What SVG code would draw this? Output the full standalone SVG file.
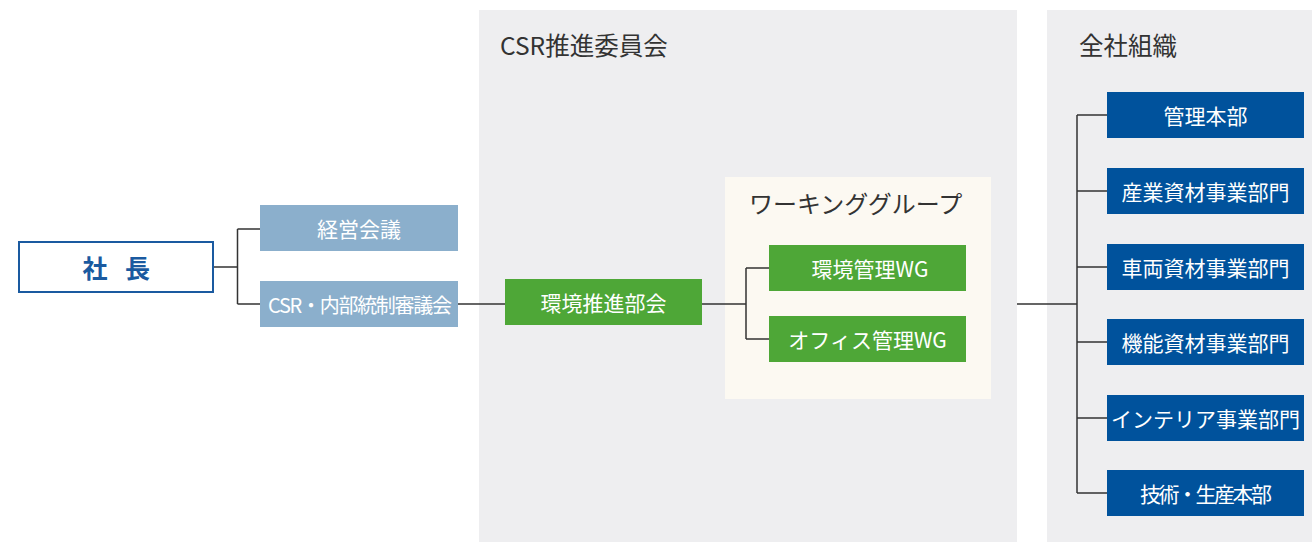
<svg xmlns="http://www.w3.org/2000/svg" width="1312" height="542" viewBox="0 0 1312 542">
<style>
text{font-family:"Noto Sans CJK JP","Noto Sans",sans-serif;}
.title{font-size:24.5px;fill:#333;}
.lbl{font-size:21px;fill:#fff;text-anchor:middle;dominant-baseline:central;}
.lb{fill:#8bafcc;}
.gr{fill:#4ea737;}
.db{fill:#00529c;}
.con{fill:none;stroke:#333;stroke-width:1.5;}
</style>
<rect x="0" y="0" width="1312" height="542" fill="#fff"/>
<g id="panel-csr">
<rect x="479" y="10" width="538" height="532" fill="#eeeef0"/>
<text class="title" x="500" y="55">CSR推進委員会</text>
</g>
<g id="panel-all">
<rect x="1047" y="10" width="265" height="532" fill="#eeeef0"/>
<text class="title" x="1079" y="55">全社組織</text>
</g>
<g id="panel-wg">
<rect x="725" y="177" width="266" height="222" fill="#fcf9f2"/>
<text class="title" x="749" y="213" style="font-size:24px">ワーキンググループ</text>
</g>
<g id="connectors">
<path class="con" d="M213 267H237.5M237.5 229V304M237.5 229H260M237.5 304H260"/>
<path class="con" d="M458 304H505"/>
<path class="con" d="M702 304H746M746 268V339M746 268H769M746 339H769"/>
<path class="con" d="M1017 304H1077M1077 115V493"/>
<path class="con" d="M1077 115H1107M1077 191H1107M1077 267H1107M1077 342H1107M1077 418H1107M1077 493H1107"/>
</g>
<g id="president">
<rect x="19" y="242" width="194" height="50" fill="#fff" stroke="#1a5aa0" stroke-width="2"/>
<text y="267" style="font-size:25px;font-weight:bold;fill:#1a5aa0;text-anchor:middle;dominant-baseline:central"><tspan x="95">社</tspan><tspan x="137.5">長</tspan></text>
</g>
<g id="keiei">
<rect class="lb" x="260" y="205" width="198" height="46"/>
<text class="lbl" x="359" y="228">経営会議</text>
</g>
<g id="csr-council">
<rect class="lb" x="260" y="281" width="198" height="46"/>
<text class="lbl" x="360" y="304" style="font-size:20px" textLength="184" lengthAdjust="spacing">CSR・内部統制審議会</text>
</g>
<g id="kankyo-suishin">
<rect class="gr" x="505" y="279" width="197" height="46"/>
<text class="lbl" x="603.5" y="302">環境推進部会</text>
</g>
<g id="wg1">
<rect class="gr" x="769" y="245" width="197" height="46"/>
<text class="lbl" x="870" y="268">環境管理WG</text>
</g>
<g id="wg2">
<rect class="gr" x="769" y="316" width="197" height="46"/>
<text class="lbl" x="867.5" y="339">オフィス管理WG</text>
</g>
<g id="div1"><rect class="db" x="1107" y="92" width="197" height="46"/><text class="lbl" x="1205.5" y="115">管理本部</text></g>
<g id="div2"><rect class="db" x="1107" y="168" width="197" height="46"/><text class="lbl" x="1205.5" y="191">産業資材事業部門</text></g>
<g id="div3"><rect class="db" x="1107" y="244" width="197" height="46"/><text class="lbl" x="1205.5" y="267">車両資材事業部門</text></g>
<g id="div4"><rect class="db" x="1107" y="319" width="197" height="46"/><text class="lbl" x="1205.5" y="342">機能資材事業部門</text></g>
<g id="div5"><rect class="db" x="1107" y="395" width="197" height="46"/><text class="lbl" x="1205.5" y="418">インテリア事業部門</text></g>
<g id="div6"><rect class="db" x="1107" y="470" width="197" height="46"/><text class="lbl" x="1206" y="493" textLength="132" lengthAdjust="spacing">技術・生産本部</text></g>
</svg>
